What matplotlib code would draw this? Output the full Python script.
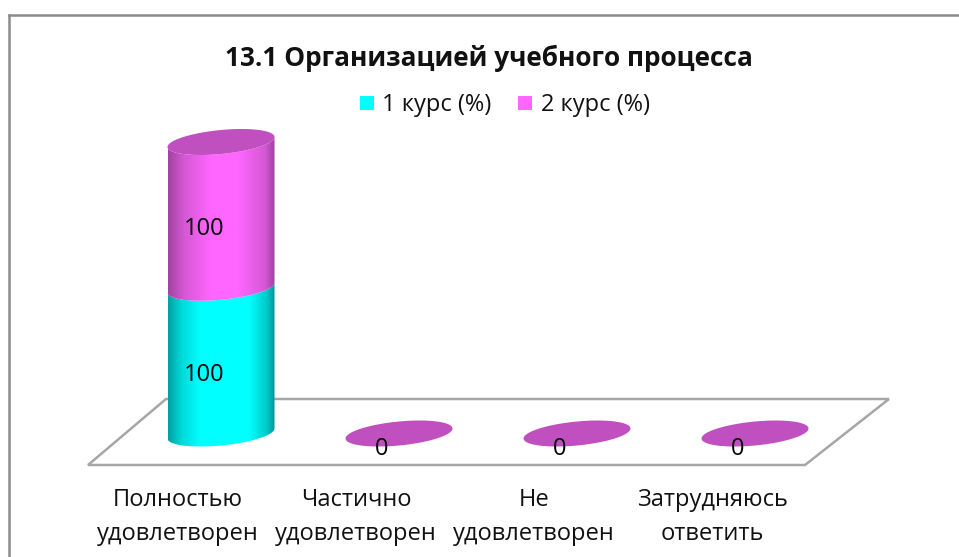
import numpy as np
import matplotlib
matplotlib.use("Agg")
import matplotlib.pyplot as plt
from matplotlib import patches
from matplotlib.colors import LinearSegmentedColormap

categories = ["Полностью\nудовлетворен", "Частично\nудовлетворен", "Не\nудовлетворен", "Затрудняюсь\nответить"]
course1 = [100, 0, 0, 0]
course2 = [100, 0, 0, 0]
series_names = ["1 курс (%)", "2 курс (%)"]
title = "13.1 Организацией учебного процесса"

W, H = 959, 557
plt.rcParams['font.family'] = ['Open Sans', 'DejaVu Sans']

# one category = 178 px, one percent = 1.4575 px
px_x = 178.
px_y = 1.4575
x0_px = 221.
y0_px = 433.5

fig = plt.figure(figsize=(W/100, H/100), dpi=100)
ax = fig.add_axes([0, 0, 1, 1])
ax.set_xlim(-x0_px/px_x, (W-x0_px)/px_x)
ax.set_ylim(-(H-y0_px)/px_y, y0_px/px_y)
ax.axis('off')

half_w = 53.5/px_x
shear = 5./px_y
half_h = 12./px_y

cyan_map = LinearSegmentedColormap.from_list('c', [(0, '#00a0a0'), (0.12, '#00d8d8'), (0.3, '#00ffff'),
                                                  (0.75, '#00ffff'), (0.92, '#00c8c8'), (1, '#008c8c')])
pink_map = LinearSegmentedColormap.from_list('p', [(0, '#a044a0'), (0.15, '#d558d5'), (0.4, '#ff66ff'),
                                                  (0.65, '#ff66ff'), (0.9, '#d558d5'), (1, '#964096')])
top_color = '#c04fc0'


def ellipse_points(cx, cy):
    t = np.linspace(0, 2*np.pi, 120)
    return np.column_stack([cx + half_w*np.cos(t), cy + shear*np.cos(t) + half_h*np.sin(t)])


def segment(cx, y1, y2, cmap, z):
    # front side of the cylinder: upper arc of y2 edge is the lower arc of the next one
    t = np.linspace(np.pi, 2*np.pi, 60)
    low = np.column_stack([cx + half_w*np.cos(t), y1 + shear*np.cos(t) + half_h*np.sin(t)])
    up = np.column_stack([cx + half_w*np.cos(t), y2 + shear*np.cos(t) + half_h*np.sin(t)])[::-1]
    poly = patches.Polygon(np.vstack([low, up]), closed=True, fc='none', ec='none', zorder=z)
    ax.add_patch(poly)
    grad = np.linspace(0, 1, 256).reshape(1, -1)
    im = ax.imshow(grad, cmap=cmap, aspect='auto', zorder=z,
                   extent=[cx-half_w, cx+half_w, y1-half_h-shear, y2+half_h+shear])
    im.set_clip_path(poly)


# floor
floor = patches.Polygon([(-133/px_x, -(465-y0_px)/px_y), (584/px_x, -(465-y0_px)/px_y),
                         (668/px_x, -(399-y0_px)/px_y), (-55/px_x, -(399-y0_px)/px_y)],
                        closed=True, fc='white', ec='#a6a6a6', lw=1.8, zorder=1)
ax.add_patch(floor)

for i, cat in enumerate(categories):
    v1, v2 = course1[i], course2[i]
    if v1 > 0:
        segment(i, 0, v1, cyan_map, 2)
    if v2 > 0:
        segment(i, v1, v1+v2, pink_map, 3)
    ax.add_patch(patches.Polygon(ellipse_points(i, v1+v2), closed=True, fc=top_color, ec='none', zorder=4))
    if v1 > 0:
        ax.text(i-17/px_x, v1*0.40, str(v1), ha='center', va='center', fontsize=17, zorder=6)
        ax.text(i-17/px_x, v1+v2*0.40, str(v2), ha='center', va='center', fontsize=17, zorder=6)
    else:
        ax.text(i-17/px_x, -10.5, str(v1), ha='center', va='center', fontsize=17, zorder=6)
    ax.text(i-43/px_x, -(517-y0_px)/px_y, cat, ha='center', va='center', fontsize=17,
            linespacing=1.5, color='#111111', zorder=6)

# chart frame, runs off the crop on the right and bottom
fr = fig.transFigure
fig.add_artist(plt.Line2D([9/W, 9/W], [0, 1-15/H], color='#8c8c8c', lw=1.8, transform=fr))
fig.add_artist(plt.Line2D([9/W, 1], [1-15/H, 1-15/H], color='#8c8c8c', lw=1.8, transform=fr))

fig.text(489/W, 1-58/H, title, ha='center', va='center', fontsize=18.9, fontweight='bold', color='#111111')

# legend
for x_sq, col, x_txt, name in [(360, '#00ffff', 382, series_names[0]), (518, '#ff66ff', 541, series_names[1])]:
    fig.add_artist(patches.Rectangle((x_sq/W, 1-110/H), 14/W, 14/H, fc=col, ec='none', transform=fr))
    fig.text(x_txt/W, 1-105/H, name, ha='left', va='center', fontsize=17, color='#111111')

fig.savefig("out.png", dpi=100)
plt.close()
